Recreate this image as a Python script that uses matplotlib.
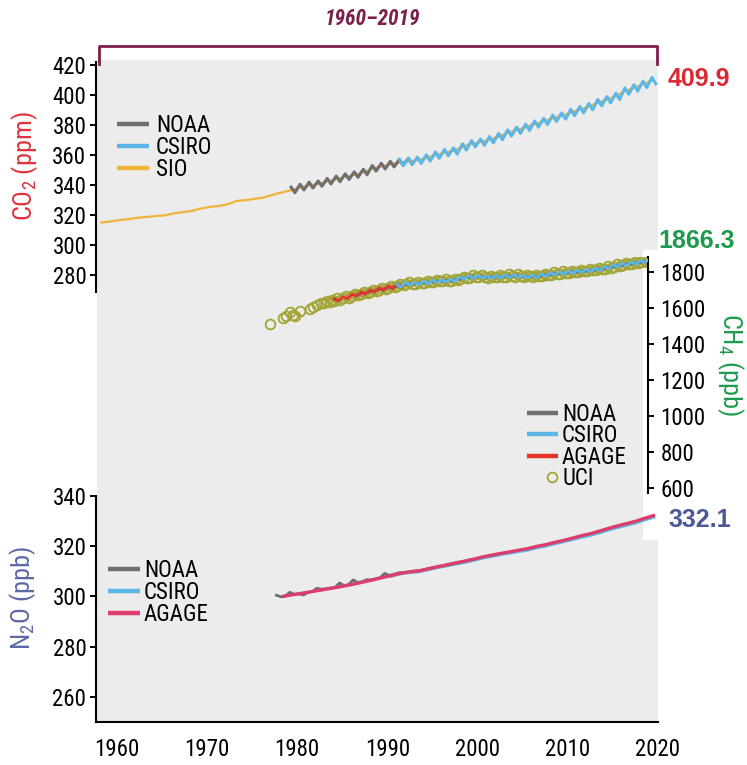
import numpy as np
import matplotlib
matplotlib.use("Agg")
import matplotlib.pyplot as plt
from matplotlib import font_manager
from matplotlib.lines import Line2D
from matplotlib.patches import Rectangle

# ---------------- data ----------------
# CO2 (ppm)
sio_years = np.arange(1958, 2020)
sio_co2 = [315.3, 316.0, 316.9, 317.6, 318.5, 319.0, 319.6, 320.0, 321.4, 322.2,
           323.0, 324.6, 325.7, 326.3, 327.5, 329.7, 330.2, 331.1, 332.0, 333.8,
           335.4, 336.8, 338.7, 340.1, 341.0, 342.6, 344.2, 345.7, 347.0, 348.7,
           351.2, 352.7, 354.0, 355.3, 356.0, 356.8, 358.3, 360.2, 361.9, 363.0,
           365.7, 367.8, 368.9, 370.5, 372.6, 375.0, 376.8, 378.8, 380.9, 382.7,
           384.8, 386.3, 388.6, 390.5, 392.5, 395.2, 397.1, 399.4, 402.9, 405.0,
           407.4, 409.9]
noaa_co2_years = np.arange(1979, 1993)
noaa_co2_hi = [338.9, 340.8, 342.2, 343.0, 344.7, 346.3, 347.8, 349.1, 350.8, 353.3,
               354.8, 356.1, 357.4, 358.1]
noaa_co2_lo = [335.2, 337.0, 338.3, 339.4, 341.0, 342.5, 344.0, 345.4, 347.2, 349.6,
               351.0, 352.4, 353.6, 354.3]
csiro_co2_years = np.arange(1991, 2020)
csiro_co2_hi = [357.4, 358.1, 358.9, 360.4, 362.3, 364.0, 365.1, 367.8, 369.9, 371.0,
                372.6, 374.7, 377.1, 378.9, 380.9, 383.0, 384.8, 386.9, 388.4, 390.7,
                392.6, 394.6, 397.3, 399.2, 401.5, 405.0, 407.1, 409.5, 412.0]
csiro_co2_lo = [353.2, 353.9, 354.7, 356.2, 358.1, 359.8, 360.9, 363.6, 365.7, 366.8,
                368.4, 370.5, 372.9, 374.7, 376.7, 378.8, 380.6, 382.7, 384.2, 386.5,
                388.4, 390.4, 393.1, 395.0, 397.3, 400.8, 402.9, 405.3, 407.8]

# CH4 (ppb)
noaa_ch4_years = np.arange(1986, 2020)
noaa_ch4 = [1670, 1683, 1694, 1705, 1714, 1724, 1735, 1736, 1742, 1748, 1751, 1754,
            1766, 1772, 1773, 1771, 1773, 1777, 1777, 1774, 1775, 1782, 1789, 1794,
            1799, 1803, 1808, 1814, 1823, 1834, 1842, 1849, 1857, 1866]
agage_ch4_years = np.arange(1984, 1992)
agage_ch4_hi = [1651, 1663, 1677, 1690, 1701, 1712, 1722, 1733]
agage_ch4_lo = [1639, 1651, 1664, 1676, 1688, 1698, 1707, 1716]
csiro_ch4_years = np.arange(1991, 2020)
csiro_ch4_hi = [1731, 1742, 1743, 1749, 1755, 1758, 1761, 1773, 1779, 1780, 1778, 1780,
                1784, 1784, 1781, 1782, 1789, 1796, 1801, 1806, 1810, 1815, 1821, 1830,
                1841, 1849, 1856, 1864, 1873]
csiro_ch4_lo = [1717, 1728, 1729, 1735, 1741, 1744, 1747, 1759, 1765, 1766, 1764, 1766,
                1770, 1770, 1767, 1768, 1775, 1782, 1787, 1792, 1796, 1801, 1807, 1816,
                1827, 1835, 1842, 1850, 1859]
uci_early_t = [1977.0, 1978.4, 1978.8, 1979.2, 1979.5, 1979.8, 1980.3, 1981.4, 1981.8,
               1982.2, 1982.6, 1983.0, 1983.3, 1983.6, 1983.9]
uci_early = [1510, 1543, 1555, 1578, 1562, 1556, 1584, 1592, 1603, 1616, 1625, 1630,
             1638, 1633, 1645]
uci_years = np.arange(1984, 2019)
uci_vals = [
    [1640, 1654, 1646], [1653, 1664, 1658], [1666, 1677, 1670], [1679, 1690, 1683],
    [1690, 1701, 1694], [1702, 1712, 1705], [1711, 1722, 1715], [1721, 1733, 1726],
    [1731, 1743, 1734], [1733, 1744, 1737], [1739, 1750, 1743], [1745, 1757, 1749],
    [1748, 1760, 1752], [1751, 1763, 1756], [1762, 1774, 1768], [1769, 1781, 1773],
    [1770, 1782, 1774], [1767, 1780, 1772], [1770, 1782, 1774], [1774, 1787, 1778],
    [1773, 1786, 1778], [1771, 1783, 1775], [1772, 1784, 1776], [1778, 1791, 1783],
    [1785, 1798, 1790], [1790, 1803, 1795], [1796, 1808, 1800], [1799, 1812, 1804],
    [1804, 1817, 1809], [1810, 1823, 1815], [1819, 1832, 1824], [1830, 1843, 1835],
    [1838, 1851, 1843], [1845, 1858, 1850], [1853, 1866, 1858]]

# N2O (ppb)
agage_n2o_years = np.arange(1978, 2020)
agage_n2o = [300.0, 300.6, 301.2, 301.8, 302.4, 303.0, 303.6, 304.3, 305.0, 305.8,
             306.6, 307.5, 308.3, 309.2, 309.7, 310.1, 310.9, 311.7, 312.4, 313.2,
             313.9, 314.7, 315.6, 316.3, 317.0, 317.6, 318.3, 318.9, 319.8, 320.5,
             321.4, 322.2, 323.1, 324.1, 324.9, 325.9, 327.0, 328.0, 328.9, 329.8,
             331.0, 332.1]
noaa_n2o_t = np.arange(1977.7, 1999.3, 0.5)
noaa_n2o = [300.4, 299.8, 300.1, 301.6, 300.7, 301.0, 300.5, 301.5, 301.9, 303.2,
            302.8, 303.0, 303.3, 303.5, 305.3, 304.3, 304.6, 306.5, 305.5, 305.8,
            306.6, 306.5, 307.0, 307.4, 309.1, 308.3, 308.7, 309.3, 309.4, 309.6,
            309.9, 310.1, 310.3, 310.7, 311.1, 311.5, 311.9, 312.2, 312.6, 313.0,
            313.4, 313.7, 314.1, 314.5]
csiro_n2o_years = np.arange(1990, 2020)
csiro_n2o = [308.1, 309.0, 309.5, 309.8, 310.6, 311.4, 312.1, 312.8, 313.5, 314.3,
             315.2, 315.9, 316.6, 317.2, 317.8, 318.4, 319.3, 320.0, 320.9, 321.7,
             322.6, 323.5, 324.3, 325.3, 326.4, 327.4, 328.3, 329.2, 330.4, 331.5]

latest_labels = ["409.9", "1866.3", "332.1"]
year_ticks = [1960, 1970, 1980, 1990, 2000, 2010, 2020]
period_label = "1960\u20132019"

# ---------------- style ----------------
C_GRAY = "#6e6f72"
C_BLUE = "#5cb6e6"
C_SIO = "#f0b43a"
C_RED = "#e3342a"
C_PINK = "#dc3d6c"
C_UCI = "#a3a435"
C_CO2 = "#e0323c"
C_CH4 = "#1e9a4e"
C_N2O = "#5b68a6"
C_N2O_LBL = "#4d5896"
C_MAROON = "#7b1f4c"
BG = "#ececec"

names = {f.name for f in font_manager.fontManager.ttflist}
FAM = "Liberation Sans"
for cand in ("Liberation Sans Narrow", "Arial Narrow", "Roboto Condensed",
             "Open Sans Condensed"):
    if cand in names:
        FAM = cand
        break
NARROW = FAM != "Liberation Sans"
TS = 16.5 if NARROW else 15.0
LS = 19.0 if NARROW else 16.5
plt.rcParams["font.family"] = [FAM, "DejaVu Sans"]
plt.rcParams["mathtext.fontset"] = "custom"
plt.rcParams["mathtext.rm"] = FAM
plt.rcParams["mathtext.it"] = FAM + ":italic"
plt.rcParams["mathtext.default"] = "regular"

W, H = 747, 765
fig = plt.figure(figsize=(W / 100, H / 100), dpi=100)


def px2year(px):
    return 1960 + (px - 116.7) / 9.022


def rect(l, t, r, b):
    return [l / W, 1 - b / H, (r - l) / W, (b - t) / H]


def fy(y):
    return 1 - y / H


def fx(x):
    return x / W


def add_ax(l, t, r, b, ylim, z):
    ax = fig.add_axes(rect(l, t, r, b))
    ax.set_xlim(px2year(l), px2year(r))
    ax.set_ylim(*ylim)
    ax.patch.set_alpha(0)
    ax.set_zorder(z)
    for s in ax.spines.values():
        s.set_visible(False)
        s.set_linewidth(1.5)
    ax.tick_params(length=4, width=1.4, labelsize=TS, pad=3)
    return ax


def zigzag(years, hi, lo, th, tl):
    years = np.asarray(years, float)
    t = np.empty(2 * len(years))
    v = np.empty(2 * len(years))
    t[0::2] = years + th
    t[1::2] = years + tl
    v[0::2] = hi
    v[1::2] = lo
    return t, v


# background panel
ax_bg = fig.add_axes(rect(97, 60, 658, 722))
ax_bg.set_facecolor(BG)
ax_bg.set_xticks([])
ax_bg.set_yticks([])
for s in ax_bg.spines.values():
    s.set_visible(False)
ax_bg.set_zorder(0)

fig.add_artist(Rectangle((fx(643), fy(540)), (661 - 643) / W, (540 - 250) / H,
                         transform=fig.transFigure, facecolor="white",
                         edgecolor="none", zorder=0.5))

# ---- CO2 ----
ax_co2 = add_ax(96, 62, 658, 292, (269, 422.3), 2)
ax_co2.spines["left"].set_visible(True)
ax_co2.set_xticks([])
ax_co2.set_yticks(np.arange(280, 421, 20))
ax_co2.plot(sio_years + 0.3, sio_co2, color=C_SIO, lw=1.6, zorder=1)
t, v = zigzag(noaa_co2_years, noaa_co2_hi, noaa_co2_lo, 0.33, 0.75)
ax_co2.plot(t, v, color=C_GRAY, lw=2.2, zorder=2)
t, v = zigzag(csiro_co2_years, csiro_co2_hi, csiro_co2_lo, 0.33, 0.75)
ax_co2.plot(t, v, color=C_BLUE, lw=2.2, zorder=3)

# ---- CH4 ----
ax_ch4 = add_ax(96, 257, 648, 493, (572, 1883), 3)
ax_ch4.spines["right"].set_visible(True)
ax_ch4.set_xticks([])
ax_ch4.yaxis.tick_right()
ax_ch4.set_yticks(np.arange(600, 1801, 200))
ax_ch4.tick_params(axis="y", pad=5)
uci_t = list(uci_early_t)
uci_v = list(uci_early)
for yr, trio in zip(uci_years, uci_vals):
    for off, val in zip((0.1, 0.45, 0.8), trio):
        uci_t.append(yr + off)
        uci_v.append(val)
ax_ch4.plot(uci_t, uci_v, linestyle="none", marker="o", mfc="none", mec=C_UCI,
            ms=7, mew=1.3, zorder=1)
ax_ch4.plot(noaa_ch4_years + 0.5, noaa_ch4, color=C_GRAY, lw=2.0, zorder=2)
t, v = zigzag(agage_ch4_years, agage_ch4_hi, agage_ch4_lo, 0.1, 0.55)
ax_ch4.plot(t, v, color=C_RED, lw=2.0, zorder=3)
t, v = zigzag(csiro_ch4_years, csiro_ch4_hi, csiro_ch4_lo, 0.05, 0.5)
ax_ch4.plot(t, v, color=C_BLUE, lw=2.0, zorder=4)

# ---- N2O ----
ax_n2o = add_ax(96, 495.7, 658, 722, (250, 340), 1)
ax_n2o.spines["left"].set_visible(True)
ax_n2o.spines["bottom"].set_visible(True)
ax_n2o.set_yticks(np.arange(260, 341, 20))
ax_n2o.set_xticks(year_ticks)
ax_n2o.tick_params(axis="x", length=0, pad=11.5)
ax_n2o.plot(noaa_n2o_t, noaa_n2o, color=C_GRAY, lw=2.0, zorder=1)
ax_n2o.plot(csiro_n2o_years + 0.5, csiro_n2o, color=C_BLUE, lw=2.4, zorder=2)
ax_n2o.plot(agage_n2o_years + 0.5, agage_n2o, color=C_PINK, lw=2.4, zorder=3)

# ---- axis titles ----
fig.text(fx(24.5), fy(166), "CO$_2$ (ppm)", rotation=90, ha="center", va="center",
         color=C_CO2, fontsize=LS)
fig.text(fx(23), fy(598), "N$_2$O (ppb)", rotation=90, ha="center", va="center",
         color=C_N2O, fontsize=LS)
fig.text(fx(730), fy(365), "CH$_4$ (ppb)", rotation=270, ha="center", va="center",
         color=C_CH4, fontsize=LS)

# ---- latest values ----
BOLD = dict(family=["Liberation Sans", "DejaVu Sans"], fontweight="bold", fontsize=18)
fig.text(fx(668), fy(86.5), latest_labels[0], color="#dc2832", ha="left",
         va="baseline", **BOLD)
fig.text(fx(658), fy(248), latest_labels[1], color=C_CH4, ha="left",
         va="baseline", **BOLD)
fig.text(fx(668), fy(527), latest_labels[2], color=C_N2O_LBL, ha="left",
         va="baseline", **BOLD)

# ---- legends ----
cap_half = 0.716 * TS * 100 / 72 / 2


def leg_line(x0, x1, y, color):
    fig.add_artist(Line2D([fx(x0), fx(x1)], [fy(y), fy(y)], transform=fig.transFigure,
                          color=color, lw=3.2, solid_capstyle="butt", zorder=6))


def leg_text(x, y, s):
    fig.text(fx(x), fy(y + cap_half), s, ha="left", va="baseline", fontsize=TS,
             color="black", zorder=6)


for y, c, s in ((124, C_GRAY, "NOAA"), (146, C_BLUE, "CSIRO"), (168, C_SIO, "SIO")):
    leg_line(117, 149, y, c)
    leg_text(156, y, s)

for y, c, s in ((413, C_GRAY, "NOAA"), (434, C_BLUE, "CSIRO"), (456, C_RED, "AGAGE")):
    leg_line(527, 558, y, c)
    leg_text(562, y, s)
fig.add_artist(Line2D([fx(552)], [fy(477)], transform=fig.transFigure, linestyle="none",
                      marker="o", mfc="none", mec=C_UCI, ms=7, mew=1.3, zorder=6))
leg_text(562, 477, "UCI")

for y, c, s in ((569, C_GRAY, "NOAA"), (591, C_BLUE, "CSIRO"), (613, C_PINK, "AGAGE")):
    leg_line(108, 140, y, c)
    leg_text(144, y, s)

# ---- period bracket ----
fig.add_artist(Line2D([fx(99), fx(99), fx(657), fx(657)], [fy(64), fy(46), fy(46), fy(64)],
                      transform=fig.transFigure, color=C_MAROON, lw=2.0, zorder=6))
fig.text(fx(372), fy(19), period_label, ha="center", va="center", color=C_MAROON,
         fontsize=15.5, fontweight="bold", fontstyle="italic", zorder=6)

fig.savefig("out.png", dpi=100)
